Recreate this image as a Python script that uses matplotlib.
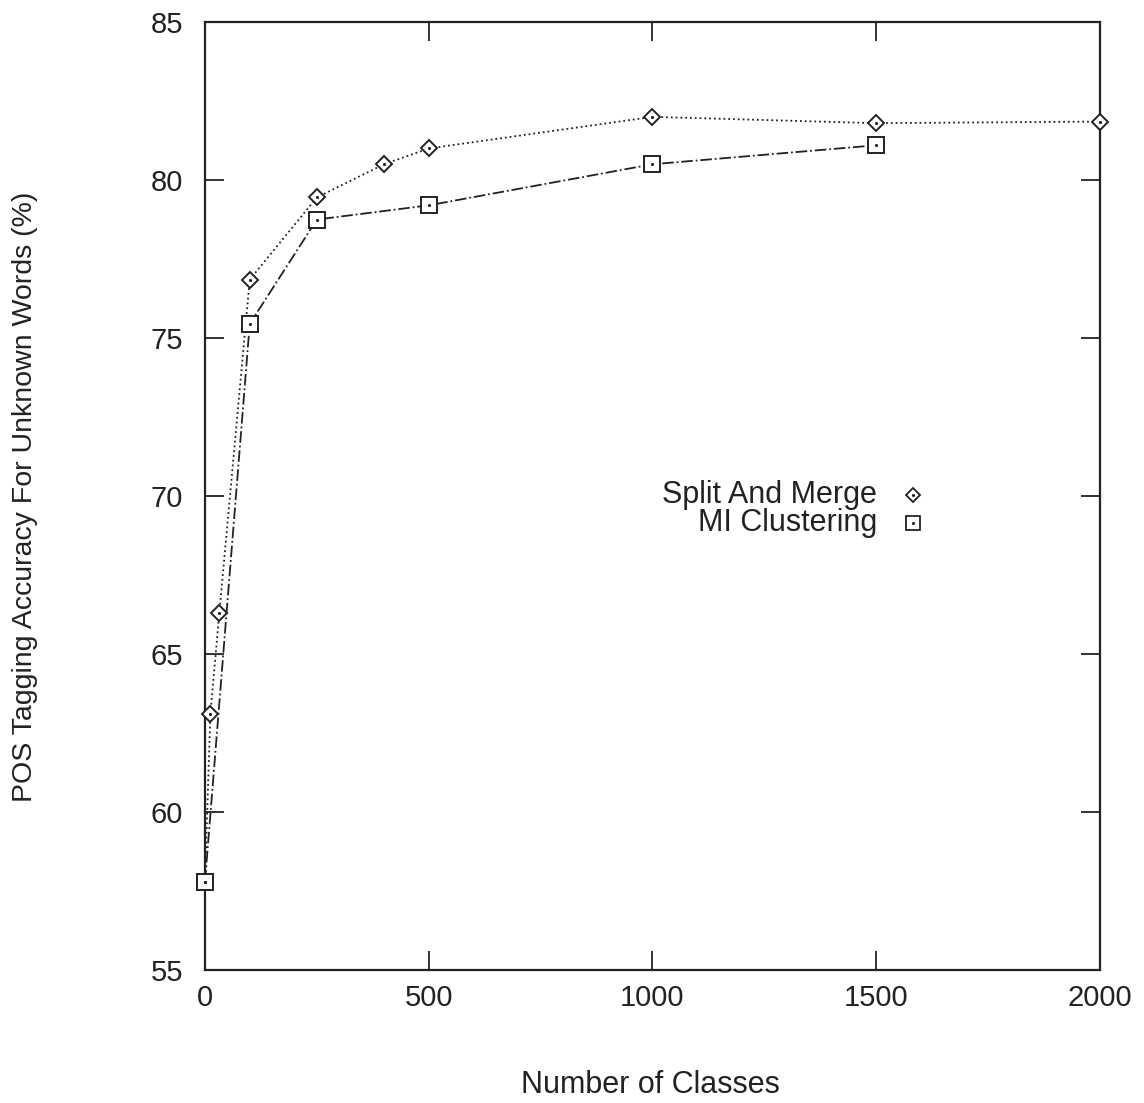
import matplotlib
matplotlib.use("Agg")
import matplotlib.pyplot as plt

plt.rcParams["font.family"] = ["Liberation Sans", "DejaVu Sans"]

# Split And Merge
sm_classes = [0, 12, 32, 100, 250, 400, 500, 1000, 1500, 2000]
sm_acc = [57.8, 63.1, 66.3, 76.85, 79.45, 80.5, 81.0, 82.0, 81.8, 81.85]

# MI Clustering
mi_classes = [0, 100, 250, 500, 1000, 1500]
mi_acc = [57.8, 75.45, 78.75, 79.2, 80.5, 81.1]

x_ticks = [0, 500, 1000, 1500, 2000]
y_ticks = [55, 60, 65, 70, 75, 80, 85]

fig = plt.figure(figsize=(11.44, 11.03), dpi=100)
ax = fig.add_axes([0.1792, 0.1206, 0.7823, 0.8594])

ink = "#222222"

ax.plot(sm_classes, sm_acc, linestyle=":", color=ink, lw=1.3,
        marker="D", markersize=8, markerfacecolor="white",
        markeredgecolor=ink, markeredgewidth=1.4, clip_on=False, zorder=3)
ax.plot(sm_classes, sm_acc, linestyle="none", marker=".", markersize=2.5,
        color=ink, clip_on=False, zorder=4)

ax.plot(mi_classes, mi_acc, linestyle="-.", color=ink, lw=1.3,
        marker="s", markersize=11, markerfacecolor="white",
        markeredgecolor=ink, markeredgewidth=1.4, clip_on=False, zorder=3)
ax.plot(mi_classes, mi_acc, linestyle="none", marker=".", markersize=2.5,
        color=ink, clip_on=False, zorder=4)

ax.set_xlim(0, 2000)
ax.set_ylim(55, 85)
ax.set_xticks(x_ticks)
ax.set_yticks(y_ticks)
ax.tick_params(direction="in", length=14, width=1.3, top=True, right=True,
               labelsize=21, colors=ink)
ax.tick_params(axis="x", pad=10)
ax.tick_params(axis="y", pad=16)
for s in ax.spines.values():
    s.set_linewidth(1.6)
    s.set_color(ink)

fig.text(0.569, 0.0163, "Number of Classes", ha="center", va="center",
         fontsize=22, color=ink)
fig.text(0.0219, 0.5494, "POS Tagging Accuracy For Unknown Words (%)",
         ha="center", va="center", rotation=90, fontsize=20.5, color=ink)

# key, gnuplot style: label right-aligned, sample to the right
ax.text(0.751, 0.501, "Split And Merge", transform=ax.transAxes,
        ha="right", va="center", fontsize=22, color=ink)
ax.text(0.751, 0.4715, "MI Clustering", transform=ax.transAxes,
        ha="right", va="center", fontsize=22, color=ink)
ax.plot([0.791], [0.501], transform=ax.transAxes, marker="D", markersize=7,
        markerfacecolor="white", markeredgecolor=ink, markeredgewidth=1.3)
ax.plot([0.791], [0.4715], transform=ax.transAxes, marker="s", markersize=10,
        markerfacecolor="white", markeredgecolor=ink, markeredgewidth=1.3)
ax.plot([0.791, 0.791], [0.501, 0.4715], transform=ax.transAxes,
        linestyle="none", marker=".", markersize=2.5, color=ink)

fig.savefig("out.png", dpi=100)
